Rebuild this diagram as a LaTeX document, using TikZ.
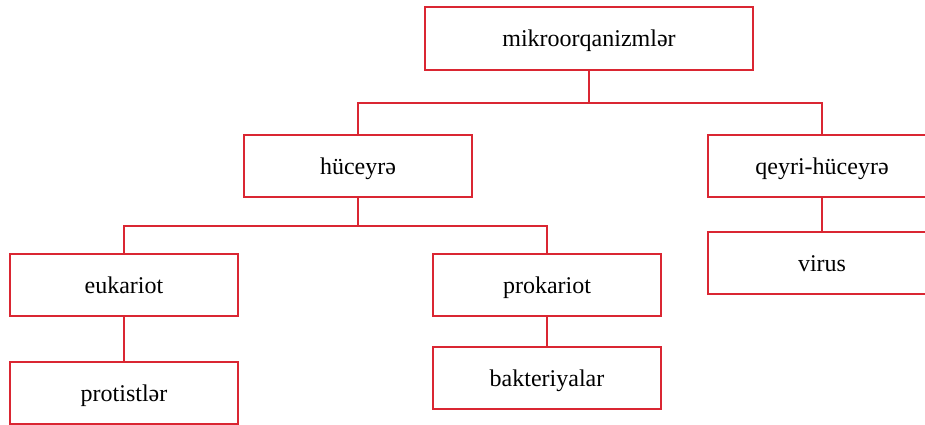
\documentclass[tikz,border=0pt]{standalone}
\usepackage{fontspec}
\setmainfont{Liberation Serif}
\definecolor{boxred}{RGB}{218,38,50}
\begin{document}
\begin{tikzpicture}[x=1pt,y=-1pt,
  tbox/.style={draw=boxred, line width=1.2pt, fill=white, inner sep=0pt,
    minimum width=228pt, minimum height=62pt, text height=16pt, text depth=0pt,
    font=\fontsize{24}{28}\selectfont},
  conn/.style={draw=boxred, line width=1.2pt}]
\useasboundingbox (0,0) rectangle (925,425);
\clip (0,0) rectangle (925,425);
% tree nodes
\node[tbox, minimum width=328pt, minimum height=63pt] (top) at (589,38.5) {mikroorqanizmlər};
\node[tbox] (huc) at (358,166) {hüceyrə};
\node[tbox] (qey) at (822,166) {qeyri-hüceyrə};
\node[tbox] (euk) at (124,285) {eukariot};
\node[tbox] (pro) at (547,285) {prokariot};
\node[tbox] (prot) at (124,393) {protistlər};
\node[tbox] (bak) at (547,378) {bakteriyalar};
\node[tbox] (vir) at (822,263) {virus};
% junction points
\coordinate (j1) at (589,103);
\coordinate (j2) at (358,226);
% connectors
\draw[conn] (top.south) -- (j1);
\draw[conn] (j1) -| (huc.north);
\draw[conn] (j1) -| (qey.north);
\draw[conn] (huc.south) -- (j2);
\draw[conn] (j2) -| (euk.north);
\draw[conn] (j2) -| (pro.north);
\draw[conn] (euk.south) -- (prot.north);
\draw[conn] (pro.south) -- (bak.north);
\draw[conn] (qey.south) -- (vir.north);
\end{tikzpicture}
\end{document}
